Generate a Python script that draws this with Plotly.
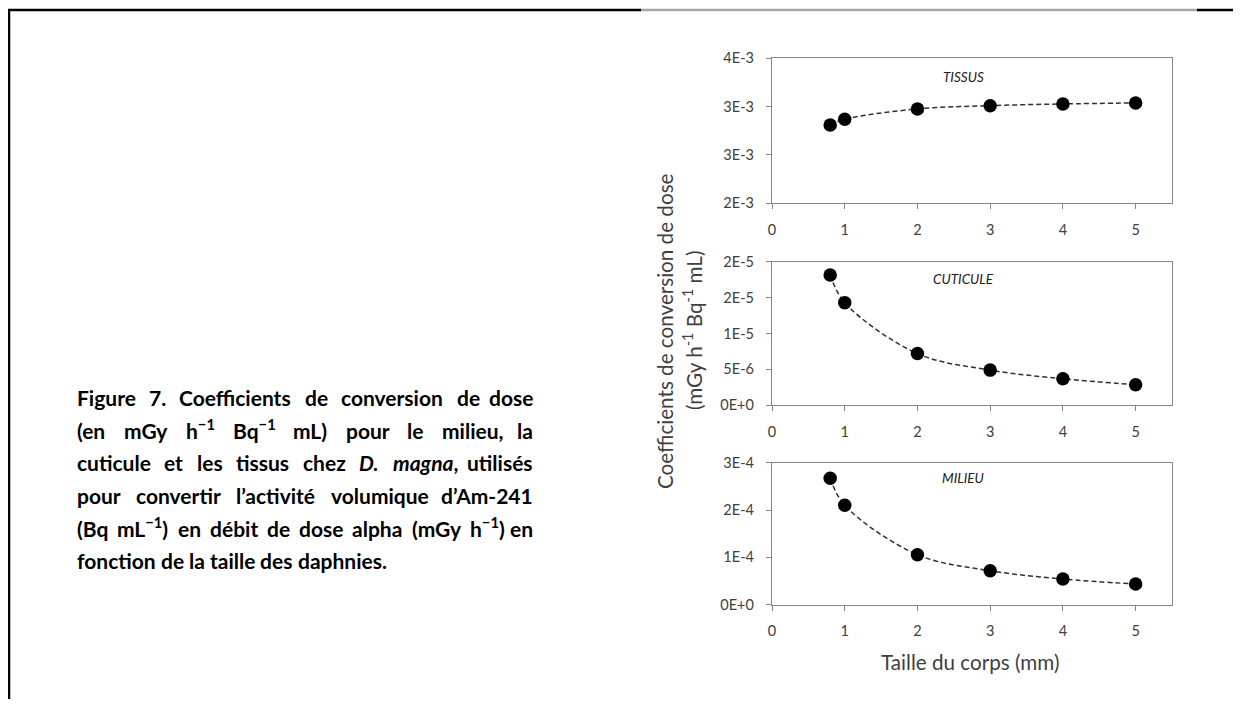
import glob
import os
import re
import struct
import plotly.graph_objects as go

# ---------------- data ----------------
taille = [0.8, 1, 2, 3, 4, 5]
tissus = [0.00281, 0.00287, 0.002976, 0.00301, 0.003028, 0.003038]
cuticule = [1.815e-5, 1.43e-5, 7.2e-6, 4.9e-6, 3.7e-6, 2.87e-6]
milieu = [2.67e-4, 2.10e-4, 1.056e-4, 0.718e-4, 0.542e-4, 0.437e-4]

x_ticks = [0, 1, 2, 3, 4, 5]
x_ticklabels = ["0", "1", "2", "3", "4", "5"]
tissus_ticks = [0.002, 0.0025, 0.003, 0.0035]
tissus_ticklabels = ["2E-3", "3E-3", "3E-3", "4E-3"]
cuticule_ticks = [0, 5e-6, 1e-5, 1.5e-5, 2e-5]
cuticule_ticklabels = ["0E+0", "5E-6", "1E-5", "2E-5", "2E-5"]
milieu_ticks = [0, 1e-4, 2e-4, 3e-4]
milieu_ticklabels = ["0E+0", "1E-4", "2E-4", "3E-4"]

panel_names = ["TISSUS", "CUTICULE", "MILIEU"]
y_title_1 = "Coefficients de conversion de dose"
y_title_2 = "(mGy h<sup>-1</sup> Bq<sup>-1</sup> mL)"
x_title = "Taille du corps (mm)"

caption_lines = [
    ["Figure", "7.", "Coefficients", "de", "conversion", "de", "dose"],
    ["(en", "mGy", "h<sup>\u22121</sup>", "Bq<sup>\u22121</sup>", "mL)", "pour", "le", "milieu,", "la"],
    ["cuticule", "et", "les", "tissus", "chez", "<i>D.</i>", "<i>magna</i>,", "utilisés"],
    ["pour", "convertir", "l\u2019activité", "volumique", "d\u2019Am-241"],
    ["(Bq", "mL<sup>\u22121</sup>)", "en", "débit", "de", "dose", "alpha", "(mGy", "h<sup>\u22121</sup>)", "en"],
    ["fonction", "de", "la", "taille", "des", "daphnies."],
]

# ---------------- page geometry (body has an 8px margin) ----------------
VIEW_W, VIEW_H, BODY_M = 1241, 707, 8
W, H = VIEW_W - 2 * BODY_M, VIEW_H - 2 * BODY_M


def px(x):
    return (x - BODY_M) / W


def py(y):
    return 1 - (y - BODY_M) / H


# ---------------- font metrics (for justified caption) ----------------
def _load_ttf(path):
    data = open(path, "rb").read()
    n = struct.unpack(">H", data[4:6])[0]
    tabs = {}
    for i in range(n):
        tag, _, off, ln = struct.unpack(">4sIII", data[12 + 16 * i:28 + 16 * i])
        tabs[tag.decode("latin1")] = off
    upem = struct.unpack(">H", data[tabs["head"] + 18:tabs["head"] + 20])[0]
    nhm = struct.unpack(">H", data[tabs["hhea"] + 34:tabs["hhea"] + 36])[0]
    hm = tabs["hmtx"]
    adv = [struct.unpack(">H", data[hm + 4 * i:hm + 4 * i + 2])[0] for i in range(nhm)]
    cm = tabs["cmap"]
    nsub = struct.unpack(">H", data[cm + 2:cm + 4])[0]
    cmap = {}
    for i in range(nsub):
        pid, eid, off = struct.unpack(">HHI", data[cm + 4 + 8 * i:cm + 12 + 8 * i])
        sub = cm + off
        fmt = struct.unpack(">H", data[sub:sub + 2])[0]
        if fmt == 4 and not cmap:
            segx2 = struct.unpack(">H", data[sub + 6:sub + 8])[0]
            seg = segx2 // 2
            ends = struct.unpack(">%dH" % seg, data[sub + 14:sub + 14 + segx2])
            starts = struct.unpack(">%dH" % seg, data[sub + 16 + segx2:sub + 16 + 2 * segx2])
            deltas = struct.unpack(">%dh" % seg, data[sub + 16 + 2 * segx2:sub + 16 + 3 * segx2])
            ro_pos = sub + 16 + 3 * segx2
            ros = struct.unpack(">%dH" % seg, data[ro_pos:ro_pos + segx2])
            for s in range(seg):
                for c in range(starts[s], min(ends[s], 0x3000) + 1):
                    if c == 0xFFFF:
                        continue
                    if ros[s] == 0:
                        g = (c + deltas[s]) & 0xFFFF
                    else:
                        gp = ro_pos + 2 * s + ros[s] + 2 * (c - starts[s])
                        g = struct.unpack(">H", data[gp:gp + 2])[0]
                        if g:
                            g = (g + deltas[s]) & 0xFFFF
                    cmap[c] = g
    def width(txt):
        tot = 0
        for ch in txt:
            g = cmap.get(ord(ch), 0)
            tot += adv[g] if g < len(adv) else adv[-1]
        return tot / upem
    return width


_metric = {}
_dirs = ["/usr/share/fonts", "/usr/local/share/fonts", os.path.expanduser("~/.fonts"),
         os.path.expanduser("~/.local/share/fonts")]
for key, fname in [("r", "Lato-Regular.ttf"), ("i", "Lato-Italic.ttf"),
                   ("b", "Lato-Bold.ttf"), ("bi", "Lato-BoldItalic.ttf")]:
    for d in _dirs:
        hits = glob.glob(os.path.join(d, "**", fname), recursive=True)
        if hits:
            try:
                _metric[key] = _load_ttf(hits[0])
            except Exception:
                pass
            break

_tab = dict(zip("abcdefghijklmnopqrstuvwxyz",
                [.53, .58, .48, .58, .54, .35, .53, .58, .27, .27, .54, .27, .87,
                 .58, .58, .58, .58, .40, .45, .38, .58, .53, .80, .52, .53, .47]))


def _em(txt, style):
    if style in _metric:
        return _metric[style](txt)
    tot = 0
    for c in txt:
        if c in "éèê":
            c = "e"
        if c in _tab:
            tot += _tab[c]
        elif c.isupper():
            tot += 0.68
        elif c.isdigit():
            tot += 0.58
        elif c in ".,'\u2019 ":
            tot += 0.26
        elif c in "()":
            tot += 0.33
        else:
            tot += 0.42
    return tot * 1.04


def text_w(word, size, bold=True):
    w = 0
    for part in re.split(r"(<sup>.*?</sup>|<i>.*?</i>)", word):
        if not part:
            continue
        italic = part.startswith("<i>")
        scale = 0.7 if part.startswith("<sup>") else 1.0
        plain = re.sub(r"<.*?>", "", part)
        style = ("b" if bold else "r") + ("i" if italic else "")
        w += _em(plain, style) * size * scale
    return w


# ---------------- figure ----------------
fig = go.Figure()

series = [tissus, cuticule, milieu]
for i, vals in enumerate(series):
    xa = "x" if i == 0 else f"x{i+1}"
    ya = "y" if i == 0 else f"y{i+1}"
    fig.add_trace(go.Scatter(
        x=taille, y=vals, mode="lines", xaxis=xa, yaxis=ya,
        line=dict(color="#303030", width=1.5, dash="5px,3px", shape="spline"),
        hoverinfo="skip", showlegend=False))
    fig.add_trace(go.Scatter(
        x=taille, y=vals, mode="markers", xaxis=xa, yaxis=ya,
        marker=dict(color="black", size=13.5), showlegend=False))

grey = "#858585"
text_grey = "#404040"
tickfont = dict(family="Lato", size=14.5, color=text_grey)
x_dom = [px(772), px(1172)]
y_doms = [[py(203.3), py(58.3)], [py(405.3), py(261.7)], [py(604.7), py(462.7)]]
y_ranges = [[0.002, 0.0035], [0, 2e-5], [0, 3e-4]]
y_tick_sets = [(tissus_ticks, tissus_ticklabels), (cuticule_ticks, cuticule_ticklabels),
               (milieu_ticks, milieu_ticklabels)]

layout = {}
for i in range(3):
    xk = "xaxis" if i == 0 else f"xaxis{i+1}"
    yk = "yaxis" if i == 0 else f"yaxis{i+1}"
    ya = "y" if i == 0 else f"y{i+1}"
    xa = "x" if i == 0 else f"x{i+1}"
    layout[xk] = dict(domain=x_dom, anchor=ya, range=[0, 5.5], tickvals=x_ticks,
                      ticktext=x_ticklabels, ticks="outside", ticklen=5, tickcolor=grey,
                      showline=True, linecolor=grey, linewidth=1.3, mirror=True,
                      showgrid=False, zeroline=False, tickfont=tickfont,
                      ticklabelstandoff=8, fixedrange=True)
    layout[yk] = dict(domain=y_doms[i], anchor=xa, range=y_ranges[i],
                      tickvals=y_tick_sets[i][0], ticktext=y_tick_sets[i][1],
                      ticks="outside", ticklen=5, tickcolor=grey,
                      showline=True, linecolor=grey, linewidth=1.3, mirror=True,
                      showgrid=False, zeroline=False, tickfont=tickfont,
                      ticklabelstandoff=9, fixedrange=True)

annotations = []

# panel labels (italic, centred on each plot area)
panel_label_y = [76.7, 279, 478]
for i, name in enumerate(panel_names):
    annotations.append(dict(
        text=f"<i>{name}</i>", x=px(963), y=py(panel_label_y[i]), xref="paper", yref="paper",
        xanchor="center", yanchor="middle", showarrow=False,
        font=dict(family="Lato", size=13.5, color="#202020")))

# axis titles: size chosen so the long title spans ~318 px
title_size = 318 / max(_em(y_title_1, "r"), 1e-6)
title_size = max(17.0, min(23.0, title_size))
annotations.append(dict(text=y_title_1, x=px(665), y=py(331),
                        xref="paper", yref="paper", textangle=-90, showarrow=False,
                        xanchor="center", yanchor="middle",
                        font=dict(family="Lato", size=title_size, color=text_grey)))
annotations.append(dict(text=y_title_2, x=px(692), y=py(331),
                        xref="paper", yref="paper", textangle=-90, showarrow=False,
                        xanchor="center", yanchor="middle",
                        font=dict(family="Lato", size=title_size, color=text_grey)))
annotations.append(dict(text=x_title, x=px(970), y=py(662),
                        xref="paper", yref="paper", showarrow=False,
                        xanchor="center", yanchor="middle",
                        font=dict(family="Lato", size=title_size, color=text_grey)))

# caption, justified between cap_left and cap_right
cap_left, cap_right = 75, 535
cap_size = 21.0
while cap_size > 14:
    ok = True
    for words in caption_lines[:-1]:
        tot = sum(text_w(w, cap_size) for w in words) + 4 * (len(words) - 1)
        if tot > cap_right - cap_left:
            ok = False
    if ok:
        break
    cap_size -= 0.25

first_bottom = 412.5
pitch = 32.5
space_w = text_w(" ", cap_size)
for li, words in enumerate(caption_lines):
    ybot = first_bottom + pitch * li
    widths = [text_w(w, cap_size) for w in words]
    last_line = li == len(caption_lines) - 1
    gap = space_w if last_line else (cap_right - cap_left - sum(widths)) / (len(words) - 1)
    xpos = cap_left
    for wi, (w, ww) in enumerate(zip(words, widths)):
        right_anchor = (wi == len(words) - 1) and not last_line
        annotations.append(dict(
            text=f"<b>{w}</b>", x=px(cap_right if right_anchor else xpos), y=py(ybot),
            xref="paper", yref="paper", xanchor="right" if right_anchor else "left",
            yanchor="bottom", showarrow=False,
            font=dict(family="Lato", size=cap_size, color="black")))
        xpos += ww + gap

# page frame lines
shapes = [
    dict(type="line", xref="paper", yref="paper", x0=px(9), x1=px(9), y0=py(9), y1=py(707),
         line=dict(color="black", width=2.5)),
    dict(type="line", xref="paper", yref="paper", x0=px(8), x1=px(641), y0=py(10), y1=py(10),
         line=dict(color="black", width=2.5)),
    dict(type="line", xref="paper", yref="paper", x0=px(641), x1=px(1197), y0=py(10), y1=py(10),
         line=dict(color="#a8a8a8", width=2.5)),
    dict(type="line", xref="paper", yref="paper", x0=px(1197), x1=px(1241), y0=py(10), y1=py(10),
         line=dict(color="black", width=2.5)),
]

fig.update_layout(
    width=W, height=H, margin=dict(l=0, r=0, t=0, b=0, autoexpand=False),
    paper_bgcolor="white", plot_bgcolor="white",
    showlegend=False, annotations=annotations, shapes=shapes,
    font=dict(family="Lato"),
    **layout)

fig.write_html("out.html")
